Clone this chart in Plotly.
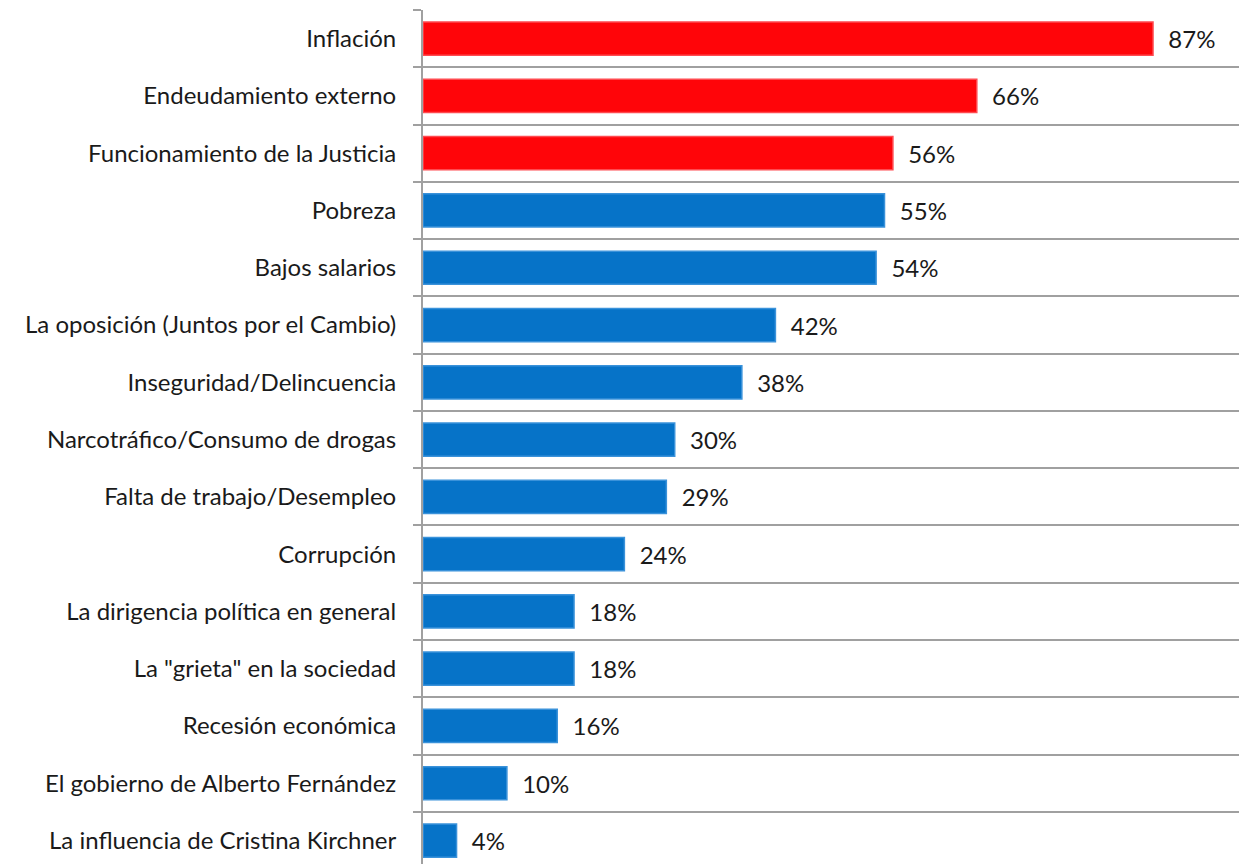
import plotly.graph_objects as go

# Categories (top to bottom) and percentages
categories = [
    "Inflación",
    "Endeudamiento externo",
    "Funcionamiento de la Justicia",
    "Pobreza",
    "Bajos salarios",
    "La oposición (Juntos por el Cambio)",
    "Inseguridad/Delincuencia",
    "Narcotráfico/Consumo de drogas",
    "Falta de trabajo/Desempleo",
    "Corrupción",
    "La dirigencia política en general",
    "La \"grieta\" en la sociedad",
    "Recesión económica",
    "El gobierno de Alberto Fernández",
    "La influencia de Cristina Kirchner",
]
values = [87, 66, 56, 55, 54, 42, 38, 30, 29, 24, 18, 18, 16, 10, 4]
highlighted = 3  # first three bars in red

RED = "#FF0509"
RED_EDGE = "#FF4A50"
BLUE = "#0673C8"
BLUE_EDGE = "#3A92DA"
GRID = "#A0A0A0"
FONT = "Lato, 'Open Sans', sans-serif"

fill = [RED if i < highlighted else BLUE for i in range(len(values))]
edge = [RED_EDGE if i < highlighted else BLUE_EDGE for i in range(len(values))]

fig = go.Figure()

fig.add_trace(go.Bar(
    x=values,
    y=categories,
    orientation="h",
    marker=dict(color=fill, line=dict(color=edge, width=1.5)),
    text=[f"  {v}%" for v in values],
    textposition="outside",
    textfont=dict(size=24, color="#1a1a1a", family=FONT),
    cliponaxis=False,
    hoverinfo="skip",
))

# the page body adds an 8px offset, so the figure is sized to compensate
fig.update_layout(
    width=1239,
    height=856,
    margin=dict(l=415, r=0, t=2, b=0),
    paper_bgcolor="white",
    plot_bgcolor="white",
    bargap=0.42,
    showlegend=False,
    font=dict(family=FONT, size=24, color="#1a1a1a"),
    xaxis=dict(
        range=[0, 98.2],
        showgrid=False,
        showticklabels=False,
        zeroline=False,
        showline=False,
        ticks="",
    ),
    yaxis=dict(
        type="category",
        categoryorder="array",
        categoryarray=categories,
        range=[14.5 - 0.09, -0.5],
        tickson="boundaries",
        showgrid=True,
        gridcolor=GRID,
        gridwidth=2,
        showline=True,
        linecolor=GRID,
        linewidth=2,
        ticks="outside",
        ticklen=8,
        tickwidth=2,
        tickcolor=GRID,
        ticklabelstandoff=20,
        tickfont=dict(size=24, color="#1a1a1a", family=FONT),
    ),
)

fig.write_html("out.html")
